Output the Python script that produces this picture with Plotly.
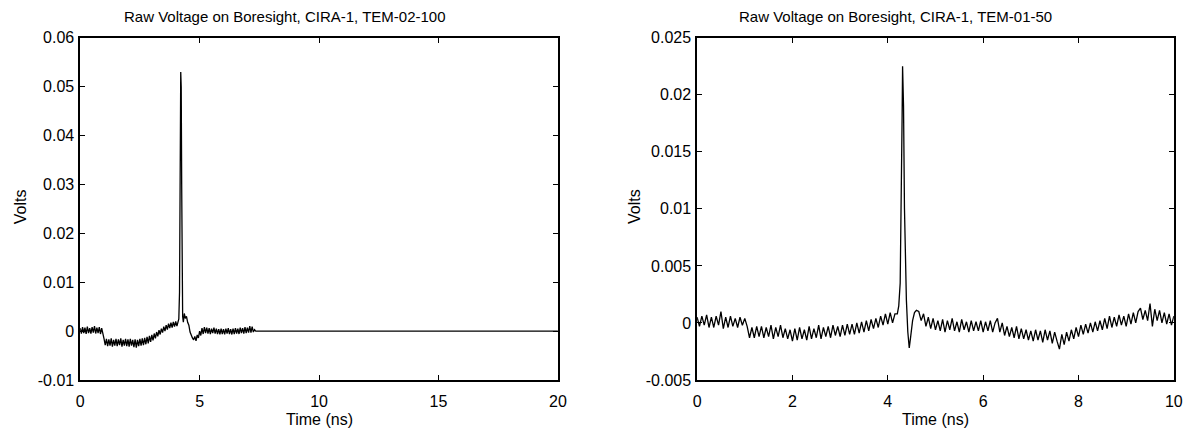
import numpy as np
import plotly.graph_objects as go

# ---------------- data: left panel (TEM-02-100) ----------------
left_pre_start, left_pre_step = 0.0, 0.05
left_pre_v = [
    0.0006, -0.0005, 0.0008, -0.0004, 0.0007, -0.0006, 0.0009, -0.0004, 0.0006, -0.0005,
    0.0008, -0.0003, 0.0010, -0.0005, 0.0007, -0.0004, 0.0008, -0.0006, 0.0006, -0.0010,
    -0.0016, -0.0029, -0.0016, -0.0031, -0.0017, -0.0030, -0.0015, -0.0032, -0.0018, -0.0030,
    -0.0016, -0.0031, -0.0017, -0.0029, -0.0015, -0.0032, -0.0018, -0.0030, -0.0016, -0.0031,
    -0.0017, -0.0032, -0.0016, -0.0030, -0.0018, -0.0033, -0.0017, -0.0034, -0.0018, -0.0031,
    -0.0016, -0.0030, -0.0015, -0.0029, -0.0014, -0.0027, -0.0012, -0.0025, -0.0010, -0.0022,
    -0.0008, -0.0019, -0.0005, -0.0015, -0.0002, -0.0011, 0.0002, -0.0007, 0.0005, -0.0003,
    0.0009, 0.0000, 0.0012, 0.0003, 0.0015, 0.0006, 0.0017, 0.0007, 0.0019, 0.0009,
    0.0020, 0.0010, 0.0018,
]
left_spike_t = [4.13, 4.16, 4.18, 4.20, 4.21, 4.23, 4.25, 4.27, 4.29, 4.32, 4.36, 4.40,
                4.45, 4.50, 4.55, 4.60, 4.65, 4.70, 4.75, 4.80]
left_spike_v = [0.0025, 0.008, 0.025, 0.045, 0.053, 0.050, 0.030, 0.012, 0.003, 0.0018, 0.0036, 0.0026,
                0.0030, 0.0018, 0.0012, -0.0002, -0.0010, -0.0014, -0.0018, -0.0011]
left_post_start, left_post_step = 4.85, 0.05
left_post_v = [
    -0.0020, -0.0008, -0.0014, 0.0000, -0.0009, 0.0006, -0.0006, 0.0008, -0.0004, 0.0007,
    -0.0005, 0.0006, -0.0006, 0.0005, -0.0004, 0.0007, -0.0005, 0.0005, -0.0006, 0.0004,
    -0.0007, 0.0005, -0.0006, 0.0004, -0.0007, 0.0005, -0.0005, 0.0006, -0.0006, 0.0004,
    -0.0007, 0.0005, -0.0006, 0.0006, -0.0005, 0.0005, -0.0006, 0.0007, -0.0004, 0.0006,
    -0.0005, 0.0008, -0.0004, 0.0007, -0.0003, 0.0010, -0.0003, 0.0009, -0.0002, 0.0003,
]
left_tail_t = [7.35, 20.0]
left_tail_v = [0.0, 0.0]

# ---------------- data: right panel (TEM-01-50) ----------------
right_pre_start, right_pre_step = 0.0, 0.05
right_pre_v = [
    0.0005, -0.0003, 0.0006, -0.0002, 0.0007, -0.0004, 0.0005, -0.0004, 0.0006, -0.0002,
    0.0010, -0.0005, 0.0005, -0.0004, 0.0006, -0.0003, 0.0004, -0.0004, 0.0005, -0.0002,
    0.0004, -0.0003, -0.0013, -0.0004, -0.0013, -0.0003, -0.0012, -0.0003, -0.0013, -0.0004,
    -0.0012, -0.0002, -0.0014, -0.0004, -0.0012, -0.0002, -0.0013, -0.0005, -0.0014, -0.0006,
    -0.0016, -0.0005, -0.0015, -0.0004, -0.0014, -0.0006, -0.0015, -0.0003, -0.0014, -0.0005,
    -0.0013, -0.0002, -0.0014, -0.0004, -0.0012, -0.0003, -0.0013, -0.0002, -0.0011, -0.0003,
    -0.0012, -0.0002, -0.0011, -0.0001, -0.0010, -0.0001, -0.0010, 0.0000, -0.0009, 0.0001,
    -0.0008, 0.0002, -0.0007, 0.0003, -0.0005, 0.0004, -0.0004, 0.0006, -0.0002, 0.0008,
    -0.0001, 0.0009, 0.0000, 0.0008, 0.0008,
]
right_spike_t = [4.23, 4.26, 4.28, 4.30, 4.31, 4.33, 4.35, 4.37, 4.39, 4.42, 4.45, 4.48,
                 4.52, 4.56, 4.60]
right_spike_v = [0.0015, 0.0035, 0.009, 0.018, 0.0225, 0.019, 0.010, 0.005, 0.002, -0.0008, -0.0022, -0.0012,
                 0.0002, 0.0009, 0.0011]
right_post_start, right_post_step = 4.65, 0.05
right_post_v = [
    0.0010, 0.0002, 0.0008, -0.0003, 0.0005, -0.0005, 0.0004, -0.0006, 0.0002, -0.0007,
    0.0003, -0.0008, 0.0002, -0.0006, 0.0004, -0.0007, 0.0001, -0.0008, 0.0003, -0.0006,
    0.0001, -0.0008, 0.0002, -0.0007, 0.0001, -0.0007, 0.0002, -0.0008, 0.0001, -0.0007,
    0.0002, -0.0008, 0.0000, 0.0004, -0.0008, 0.0000, -0.0011, -0.0003, -0.0012, -0.0004,
    -0.0013, -0.0003, -0.0014, -0.0005, -0.0014, -0.0006, -0.0015, -0.0007, -0.0016, -0.0006,
    -0.0015, -0.0007, -0.0017, -0.0006, -0.0015, -0.0007, -0.0018, -0.0008, -0.0016, -0.0023,
    -0.0010, -0.0019, -0.0008, -0.0016, -0.0006, -0.0014, -0.0004, -0.0012, -0.0002, -0.0010,
    -0.0001, -0.0009, 0.0000, -0.0008, 0.0001, -0.0007, 0.0002, -0.0006, 0.0004, -0.0005,
    0.0006, -0.0004, 0.0005, -0.0003, 0.0007, -0.0002, 0.0006, -0.0003, 0.0008, -0.0001,
    0.0009, 0.0000, 0.0010, 0.0013, 0.0003, 0.0011, 0.0002, 0.0017, -0.0003, 0.0012,
    0.0002, 0.0011, 0.0000, 0.0009, -0.0001, 0.0008, -0.0002, 0.0006,
]

# tick labels
left_xticks = [0, 5, 10, 15, 20]
left_yticks = [-0.01, 0, 0.01, 0.02, 0.03, 0.04, 0.05, 0.06]
left_ytext = ["-0.01", "0", "0.01", "0.02", "0.03", "0.04", "0.05", "0.06"]
right_xticks = [0, 2, 4, 6, 8, 10]
right_yticks = [-0.005, 0, 0.005, 0.01, 0.015, 0.02, 0.025]
right_ytext = ["-0.005", "0", "0.005", "0.01", "0.015", "0.02", "0.025"]

title_left = "Raw Voltage on Boresight, CIRA-1, TEM-02-100"
title_right = "Raw Voltage on Boresight, CIRA-1, TEM-01-50"


def grid(start, step, n):
    return list(start + step * np.arange(n))


lt = (grid(left_pre_start, left_pre_step, len(left_pre_v)) + left_spike_t
      + grid(left_post_start, left_post_step, len(left_post_v)) + left_tail_t)
lv = left_pre_v + left_spike_v + left_post_v + left_tail_v
rt = (grid(right_pre_start, right_pre_step, len(right_pre_v)) + right_spike_t
      + grid(right_post_start, right_post_step, len(right_post_v)))
rv = right_pre_v + right_spike_v + right_post_v

W, H = 1197, 437
FONT = "Liberation Sans, Arial, sans-serif"

fig = go.Figure()
fig.add_trace(go.Scatter(x=lt, y=lv, mode="lines", line=dict(color="black", width=1.3),
                         xaxis="x", yaxis="y", showlegend=False, hoverinfo="skip"))
fig.add_trace(go.Scatter(x=rt, y=rv, mode="lines", line=dict(color="black", width=1.3),
                         xaxis="x2", yaxis="y2", showlegend=False, hoverinfo="skip"))

ax_common = dict(showgrid=False, zeroline=False, showline=True, linecolor="black", linewidth=1.5,
                 mirror="ticks", ticks="inside", ticklen=5, tickwidth=1, tickcolor="black",
                 tickfont=dict(family=FONT, size=16, color="black"), fixedrange=True)

fig.update_layout(
    width=W, height=H, margin=dict(l=0, r=0, t=0, b=0),
    paper_bgcolor="white", plot_bgcolor="white",
    xaxis=dict(domain=[77 / W, 560 / W], range=[0, 20], tickvals=left_xticks,
               ticktext=[str(v) for v in left_xticks], anchor="y", ticklabelstandoff=6, **ax_common),
    yaxis=dict(domain=[(H - 387) / H, (H - 31) / H], range=[-0.01, 0.06], tickvals=left_yticks,
               ticktext=left_ytext, anchor="x", ticklabelstandoff=1, **ax_common),
    xaxis2=dict(domain=[700.7 / W, 1182.7 / W], range=[0, 10], tickvals=right_xticks,
                ticktext=[str(v) for v in right_xticks], anchor="y2", ticklabelstandoff=6, **ax_common),
    yaxis2=dict(domain=[(H - 387) / H, (H - 31) / H], range=[-0.005, 0.025], tickvals=right_yticks,
                ticktext=right_ytext, anchor="x2", ticklabelstandoff=1, **ax_common),
)

ann_font = dict(family=FONT, size=16, color="black")
title_font = dict(family=FONT, size=15, color="black")
anns = [
    dict(text=title_left, x=284.5 / W, y=1, yanchor="top", yshift=1, font=title_font),
    dict(text=title_right, x=901 / W, y=1, yanchor="top", yshift=1, font=title_font),
    dict(text="Time (ns)", x=318.5 / W, y=1 - 428 / H, yanchor="middle", font=ann_font),
    dict(text="Time (ns)", x=941.7 / W, y=1 - 428 / H, yanchor="middle", font=ann_font),
    dict(text="Volts", x=17.5 / W, y=1 - 207 / H, yanchor="middle", textangle=-90, font=ann_font),
    dict(text="Volts", x=638 / W, y=1 - 207 / H, yanchor="middle", textangle=-90, font=ann_font),
]
for a in anns:
    fig.add_annotation(xref="paper", yref="paper", xanchor="center", borderpad=0,
                       showarrow=False, **a)

fig.write_html("out.html")
